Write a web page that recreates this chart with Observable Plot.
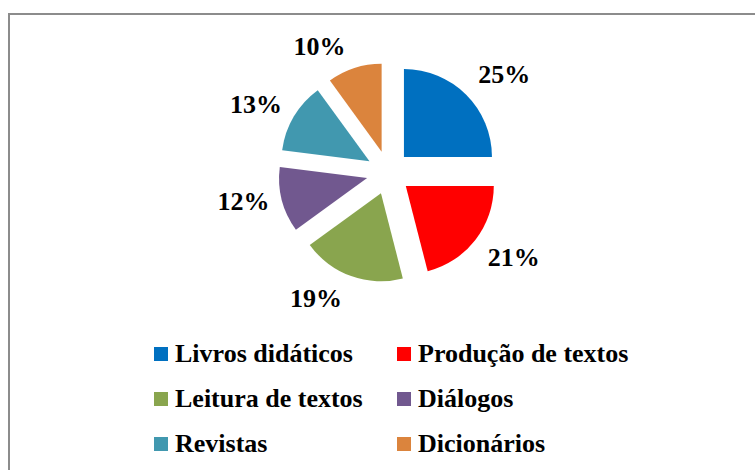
<!DOCTYPE html>
<html><head><meta charset="utf-8">
<script src="https://cdn.jsdelivr.net/npm/d3@7"></script>
<script src="https://cdn.jsdelivr.net/npm/@observablehq/plot@0.6"></script>
<style>
body{margin:0;background:#fff;}
#wrap{position:relative;width:755px;height:470px;overflow:hidden;font-family:"Liberation Serif","Times New Roman",serif;}
#chart{position:absolute;left:0;top:0;}
#chart svg text{font-family:"Liberation Serif","Times New Roman",serif !important;}
#frame{position:absolute;left:8px;top:13px;right:-5px;bottom:-5px;border-left:2px solid #8c8c8c;border-top:2px solid #8c8c8c;pointer-events:none;}
#legend{position:absolute;left:154px;top:331px;display:grid;grid-template-columns:243px auto;}
.item{display:flex;align-items:center;height:45.3px;font-size:26px;font-weight:bold;color:#000;white-space:nowrap;}
.sw{width:14px;height:14px;margin-right:7px;flex:none;}
</style>
</head><body>
<div id="wrap"><div id="chart"></div><div id="legend"></div><div id="frame"></div></div>
<script>
const categories = ["Livros didáticos","Produção de textos","Leitura de textos","Diálogos","Revistas","Dicionários"];
const values = [25, 21, 19, 12, 13, 10];
const colors = ["#0070C0","#FF0000","#89A54E","#71588F","#4198AF","#DB843D"];

// layout parameters, in pie-radius units
const explode = 0.25;
const labelR = 1.307;   // anchor radius of the outside-end label
const labelW = 0.386;   // horizontal half-box offset
const labelH = 0.193;   // vertical half-box offset

const clamp = v => Math.max(0, Math.min(1, v));
const arcs = d3.pie().sort(null).value(d => d)(values);
const rows = arcs.map((a, i) => {
  const m = (a.startAngle + a.endAngle) / 2;
  const s = Math.sin(m), c = Math.cos(m);
  return {cat: categories[i], value: values[i], label: values[i] + "%",
          lx: labelR * s + labelW * Math.sign(s) * Math.min(1, Math.abs(s) / 0.3),
          ly: labelR * c + labelH * Math.sign(c) * clamp((Math.abs(c) - 0.25) / 0.45),
          arc: a, color: colors[i]};
});

function slices(index, scales) {
  const {x, y} = scales;
  const r = x(1) - x(0);
  const arcGen = d3.arc().innerRadius(0).outerRadius(r);
  const g = d3.create("svg:g");
  g.selectAll("path").data(rows).join("path")
    .attr("d", d => arcGen(d.arc))
    .attr("fill", d => d.color)
    .attr("transform", d => {
      const m = (d.arc.startAngle + d.arc.endAngle) / 2;
      return `translate(${x(explode * Math.sin(m))},${y(explode * Math.cos(m))})`;
    });
  return g.node();
}

const plot = Plot.plot({
  width: 755, height: 330, margin: 0,
  x: {domain: [-4.414, 4.166], axis: null},
  y: {domain: [-1.789, 1.961], axis: null},
  style: {background: "transparent", fontFamily: "'Liberation Serif', 'Times New Roman', serif"},
  marks: [
    slices,
    Plot.text(rows, {x: "lx", y: "ly", text: "label", fontSize: 26, fontWeight: "bold",
      fill: "#000", textAnchor: "middle", lineAnchor: "middle"})
  ]
});
document.getElementById("chart").appendChild(plot);

const legend = document.getElementById("legend");
rows.forEach(d => {
  const it = document.createElement("div");
  it.className = "item";
  const sw = document.createElement("span");
  sw.className = "sw"; sw.style.background = d.color;
  it.appendChild(sw);
  it.appendChild(document.createTextNode(d.cat));
  legend.appendChild(it);
});
</script>
</body></html>
